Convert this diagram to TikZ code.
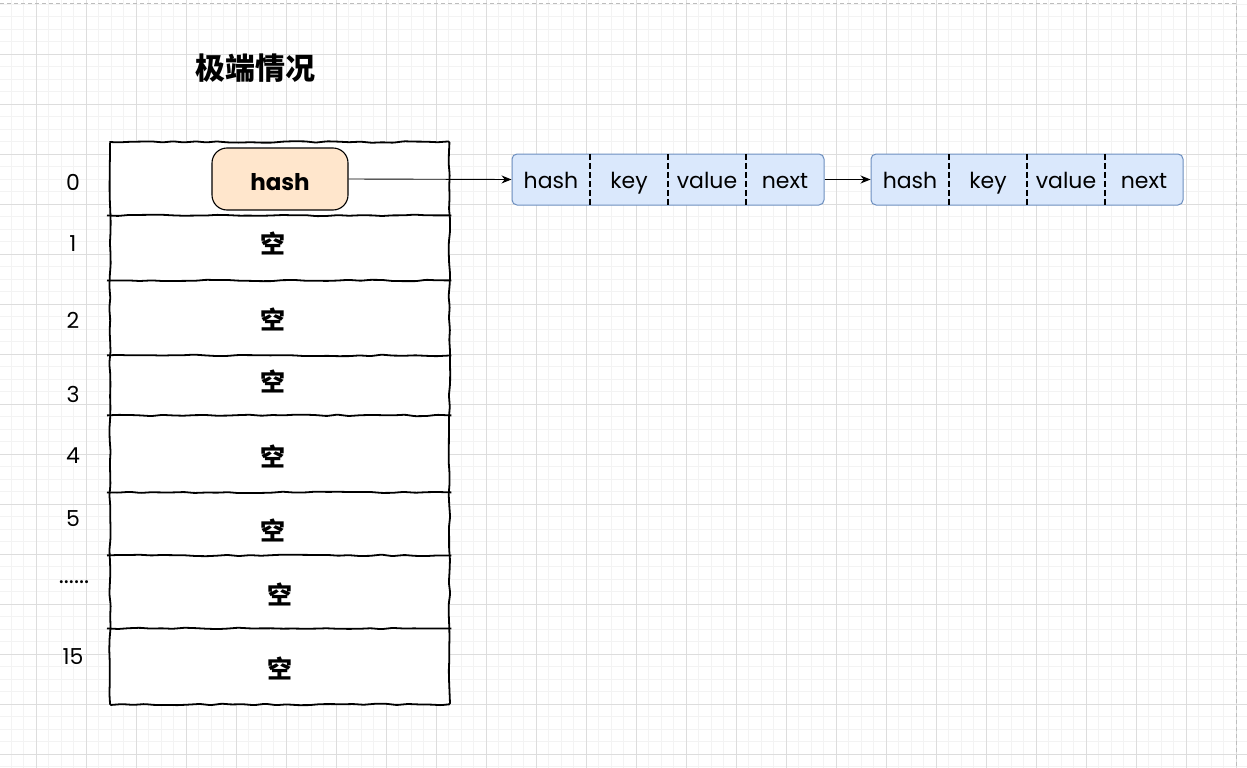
\documentclass[tikz,border=0pt]{standalone}
\usepackage{fontspec}
\setmainfont{Poppins}
\newfontfamily\cjk{Noto Sans CJK SC}
\usetikzlibrary{decorations.pathmorphing,arrows.meta}
\definecolor{gridminor}{HTML}{F3F3F3}
\definecolor{gridmajor}{HTML}{DDDDDD}
\definecolor{pagedash}{HTML}{BDBDBD}
\definecolor{pillfill}{HTML}{FFE6CC}
\definecolor{listfill}{HTML}{DAE8FC}
\definecolor{liststroke}{HTML}{6C8EBF}
\tikzset{
  sketch/.style={decorate, decoration={random steps, segment length=11pt, amplitude=0.8pt}, rounded corners=1.2pt},
  tableline/.style={draw=black, line width=1.8pt, sketch},
  rowbox/.style={draw=none, minimum width=339pt, inner sep=0pt, anchor=north west},
  idx/.style={font=\fontsize{22}{24}\selectfont, inner sep=0pt},
  empty/.style={font=\cjk\bfseries\fontsize{25}{27}\selectfont, inner sep=0pt},
  titlebox/.style={font=\cjk\bfseries\fontsize{30}{32}\selectfont, inner sep=0pt},
  pill/.style={draw=black, line width=1.1pt, fill=pillfill, rounded corners=15pt, minimum width=136pt, minimum height=62pt, inner sep=0pt, text height=22pt, text depth=0pt, font=\bfseries\fontsize{23}{25}\selectfont},
  listbox/.style={draw=liststroke, line width=1pt, fill=listfill, rounded corners=5pt, minimum width=312pt, minimum height=51pt, inner sep=0pt},
  cell/.style={draw=none, minimum width=78pt, minimum height=51pt, inner sep=0pt, text height=17pt, text depth=0pt, font=\fontsize{22}{24}\selectfont},
  divider/.style={draw=black, line width=1.7pt, dash pattern=on 6pt off 3pt},
  link/.style={draw=black, line width=0.9pt, -{Stealth[length=10pt,width=8pt]}}
}
\begin{document}
\begin{tikzpicture}[x=1pt,y=-1pt]
\pgfmathsetseed{11}
\useasboundingbox (0,0) rectangle (1247,768);
\begin{scope}
  \clip (0,0) rectangle (1247,768);
  \fill[white] (0,0) rectangle (1247,768);
  \foreach \k in {0,...,100} {
    \pgfmathsetmacro\xx{-1.5+12.5*\k}
    \draw[gridminor, line width=0.8pt] (\xx,0) -- (\xx,768);
  }
  \foreach \k in {-1,...,62} {
    \pgfmathsetmacro\yy{4+12.5*\k}
    \draw[gridminor, line width=0.8pt] (0,\yy) -- (1247,\yy);
  }
  \foreach \k in {0,...,25} {
    \pgfmathsetmacro\xx{-14+50*\k}
    \draw[gridmajor, line width=0.9pt] (\xx,0) -- (\xx,768);
  }
  \foreach \k in {1,...,15} {
    \pgfmathsetmacro\yy{4+50*\k}
    \draw[gridmajor, line width=0.9pt] (0,\yy) -- (1247,\yy);
  }
  \draw[pagedash, line width=1pt, dash pattern=on 4pt off 3pt] (0,4) -- (1236.7,4) -- (1236.7,768);
\end{scope}

% title
\node[titlebox] (title) at (255,68) {极端情况};

% table rows
\node[rowbox, minimum height=73pt] (r0) at (110,142) {};
\node[rowbox, minimum height=65pt] (r1) at (110,215) {};
\node[rowbox, minimum height=75pt] (r2) at (110,280) {};
\node[rowbox, minimum height=60pt] (r3) at (110,355) {};
\node[rowbox, minimum height=77pt] (r4) at (110,415) {};
\node[rowbox, minimum height=63pt] (r5) at (110,492) {};
\node[rowbox, minimum height=73pt] (r6) at (110,555) {};
\node[rowbox, minimum height=76pt] (r7) at (110,628) {};

\fill[white] (r0.north west) rectangle (r7.south east);
\draw[tableline] (r0.north west) rectangle (r7.south east);
\foreach \i in {0,...,6} {
  \draw[tableline] ([xshift=-3pt]r\i.south west) -- ([xshift=2pt]r\i.south east);
}

% index labels
\node[idx] (l0) at (73,182) {0};
\node[idx] (l1) at (73,244) {1};
\node[idx] (l2) at (73,320) {2};
\node[idx] (l3) at (73,394) {3};
\node[idx] (l4) at (73,456) {4};
\node[idx] (l5) at (73,519) {5};
\node[idx, font=\fontsize{24}{26}\selectfont] (l6) at (74,582) {......};
\node[idx] (l7) at (73,657) {15};

% empty markers
\node[empty] (e1) at (273,243) {空};
\node[empty] (e2) at (273,319) {空};
\node[empty] (e3) at (273,381) {空};
\node[empty] (e4) at (273,456) {空};
\node[empty] (e5) at (273,530) {空};
\node[empty] (e6) at (280,594) {空};
\node[empty] (e7) at (280,668) {空};

% pill in bucket 0
\node[pill] (p0) at (280,179) {hash};

% first entry
\node[listbox] (n1) at (668,179.5) {};
\node[cell] (n1h) at (551,179.5) {hash};
\node[cell] (n1k) at (629,179.5) {key};
\node[cell] (n1v) at (707,179.5) {value};
\node[cell] (n1n) at (785,179.5) {next};
\draw[divider] (n1h.north east) -- (n1h.south east);
\draw[divider] (n1k.north east) -- (n1k.south east);
\draw[divider] (n1v.north east) -- (n1v.south east);

% second entry
\node[listbox] (n2) at (1027,179.5) {};
\node[cell] (n2h) at (910,179.5) {hash};
\node[cell] (n2k) at (988,179.5) {key};
\node[cell] (n2v) at (1066,179.5) {value};
\node[cell] (n2n) at (1144,179.5) {next};
\draw[divider] (n2h.north east) -- (n2h.south east);
\draw[divider] (n2k.north east) -- (n2k.south east);
\draw[divider] (n2v.north east) -- (n2v.south east);

% links
\draw[link] (p0.east) -- (n1.west);
\draw[link] (n1.east) -- (n2.west);
\end{tikzpicture}
\end{document}
